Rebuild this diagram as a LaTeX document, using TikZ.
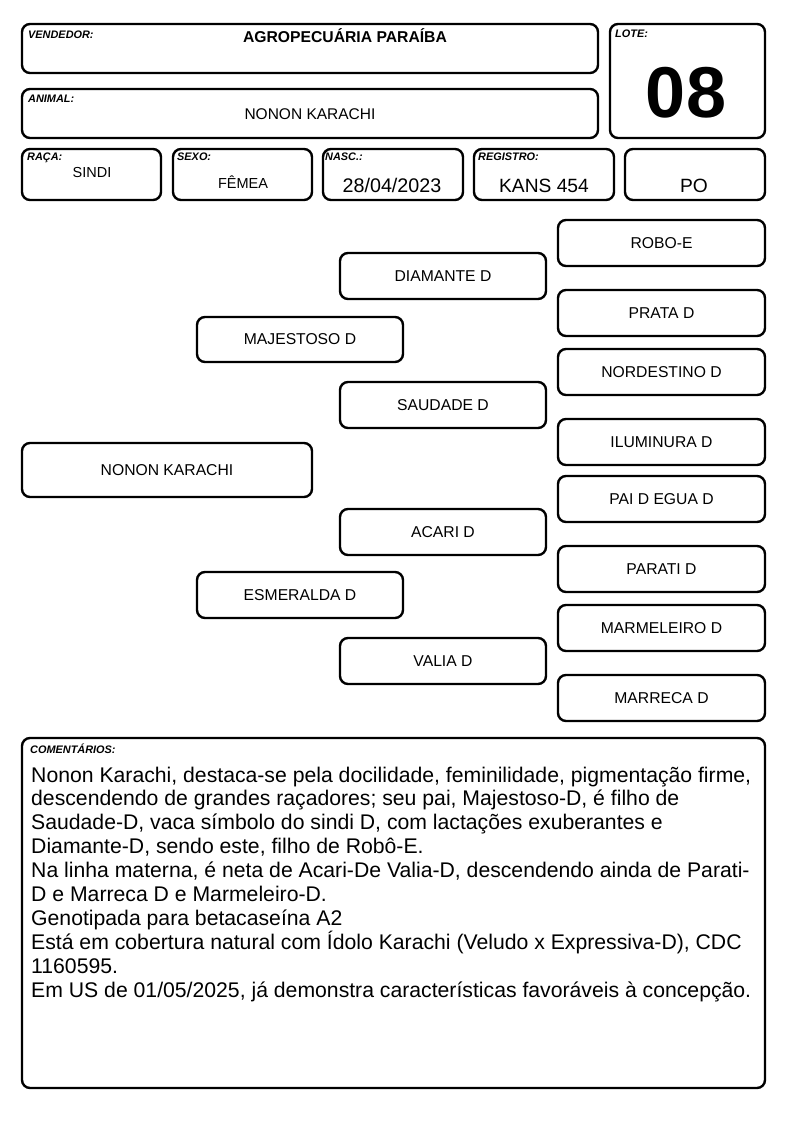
\documentclass[tikz,border=0pt]{standalone}
\usepackage{fontspec}
\setmainfont{Liberation Sans}
\begin{document}
\begin{tikzpicture}[x=1pt,y=-1pt,
  box/.style={draw=black, line width=2.4pt, rounded corners=8pt, inner sep=0pt, font=\fontsize{15.7}{18}\selectfont},
  lbl/.style={anchor=base west, inner sep=0pt, font=\fontsize{10.9}{12}\selectfont\bfseries\itshape},
  valtxt/.style={anchor=base, inner sep=0pt, font=\fontsize{14.5}{17}\selectfont},
  bigval/.style={anchor=base, inner sep=0pt, font=\fontsize{19.2}{21}\selectfont},
  comtxt/.style={anchor=base west, inner sep=0pt, font=\fontsize{21.2}{24}\selectfont}]
\useasboundingbox[fill=white] (0,0) rectangle (794,1123);
% header boxes
\node[box, minimum width=576pt, minimum height=49pt] (vend) at (310,48.5) {};
\node[box, minimum width=155pt, minimum height=114pt] (lote) at (687.5,81) {};
\node[box, minimum width=576pt, minimum height=49pt] (anim) at (310,113.5) {};
\node[box, minimum width=139pt, minimum height=51pt] (raca) at (91.5,174.5) {};
\node[box, minimum width=139pt, minimum height=51pt] (sexo) at (242.5,174.5) {};
\node[box, minimum width=140pt, minimum height=51pt] (nasc) at (393,174.5) {};
\node[box, minimum width=140pt, minimum height=51pt] (reg) at (544,174.5) {};
\node[box, minimum width=140pt, minimum height=51pt] (po) at (695,174.5) {};
% header texts
\node[lbl] (vendl) at (28,39) {VENDEDOR:};
\node[anchor=base, inner sep=0pt, font=\fontsize{15.7}{18}\selectfont\bfseries] (vendv) at (345,43) {AGROPECUÁRIA PARAÍBA};
\node[lbl] (lotel) at (615,38) {LOTE:};
\node[anchor=base, inner sep=0pt, font=\fontsize{72}{80}\selectfont\bfseries] (lotev) at (686,118) {08};
\node[lbl] (animl) at (28,103) {ANIMAL:};
\node[anchor=base, inner sep=0pt, font=\fontsize{15.5}{18}\selectfont] (animv) at (310,120) {NONON KARACHI};
\node[lbl] (racal) at (27,161) {RAÇA:};
\node[valtxt] (racav) at (92,178) {SINDI};
\node[lbl] (sexol) at (177,161) {SEXO:};
\node[valtxt] (sexov) at (243,189) {FÊMEA};
\node[lbl] (nascl) at (325,161) {NASC.:};
\node[bigval, font=\fontsize{19.7}{21}\selectfont] (nascv) at (392,193) {28/04/2023};
\node[lbl] (regl) at (478,161) {REGISTRO:};
\node[bigval] (regv) at (544,193) {KANS 454};
\node[bigval] (pov) at (694,193) {PO};
% pedigree
\node[box, minimum width=290pt, minimum height=54pt] (nk) at (167,470) {NONON KARACHI};
\node[box, minimum width=206pt, minimum height=45pt] (maj) at (300,339.5) {MAJESTOSO D};
\node[box, minimum width=206pt, minimum height=46pt] (esm) at (300,595) {ESMERALDA D};
\node[box, minimum width=206pt, minimum height=46pt] (dia) at (443,276) {DIAMANTE D};
\node[box, minimum width=206pt, minimum height=46pt] (sau) at (443,405) {SAUDADE D};
\node[box, minimum width=206pt, minimum height=46pt] (aca) at (443,532) {ACARI D};
\node[box, minimum width=206pt, minimum height=46pt] (vali) at (443,661) {VALIA D};
\node[box, minimum width=207pt, minimum height=46pt] (rob) at (661.5,243) {ROBO-E};
\node[box, minimum width=207pt, minimum height=46pt] (pra) at (661.5,313) {PRATA D};
\node[box, minimum width=207pt, minimum height=46pt] (nor) at (661.5,372) {NORDESTINO D};
\node[box, minimum width=207pt, minimum height=46pt] (ilu) at (661.5,442) {ILUMINURA D};
\node[box, minimum width=207pt, minimum height=46pt] (pai) at (661.5,499) {PAI D EGUA D};
\node[box, minimum width=207pt, minimum height=46pt] (par) at (661.5,569) {PARATI D};
\node[box, minimum width=207pt, minimum height=46pt] (mar) at (661.5,628) {MARMELEIRO D};
\node[box, minimum width=207pt, minimum height=46pt] (mrc) at (661.5,698) {MARRECA D};
% comments
\node[box, minimum width=743pt, minimum height=350pt] (com) at (393.5,913) {};
\node[lbl] (coml) at (30,753) {COMENTÁRIOS:};
\node[comtxt] (c1) at (31,782) {Nonon Karachi, destaca-se pela docilidade, feminilidade, pigmentação firme,};
\node[comtxt] (c2) at (31,805.9) {descendendo de grandes raçadores; seu pai, Majestoso-D, é filho de};
\node[comtxt] (c3) at (31,829.8) {Saudade-D, vaca símbolo do sindi D, com lactações exuberantes e};
\node[comtxt] (c4) at (31,853.7) {Diamante-D, sendo este, filho de Robô-E.};
\node[comtxt] (c5) at (31,877.6) {Na linha materna, é neta de Acari-De Valia-D, descendendo ainda de Parati-};
\node[comtxt] (c6) at (31,901.5) {D e Marreca D e Marmeleiro-D.};
\node[comtxt] (c7) at (31,925.4) {Genotipada para betacaseína A2};
\node[comtxt] (c8) at (31,949.3) {Está em cobertura natural com Ídolo Karachi (Veludo x Expressiva-D), CDC};
\node[comtxt] (c9) at (31,973.2) {1160595.};
\node[comtxt] (c10) at (31,997.1) {Em US de 01/05/2025, já demonstra características favoráveis à concepção.};
\end{tikzpicture}
\end{document}
